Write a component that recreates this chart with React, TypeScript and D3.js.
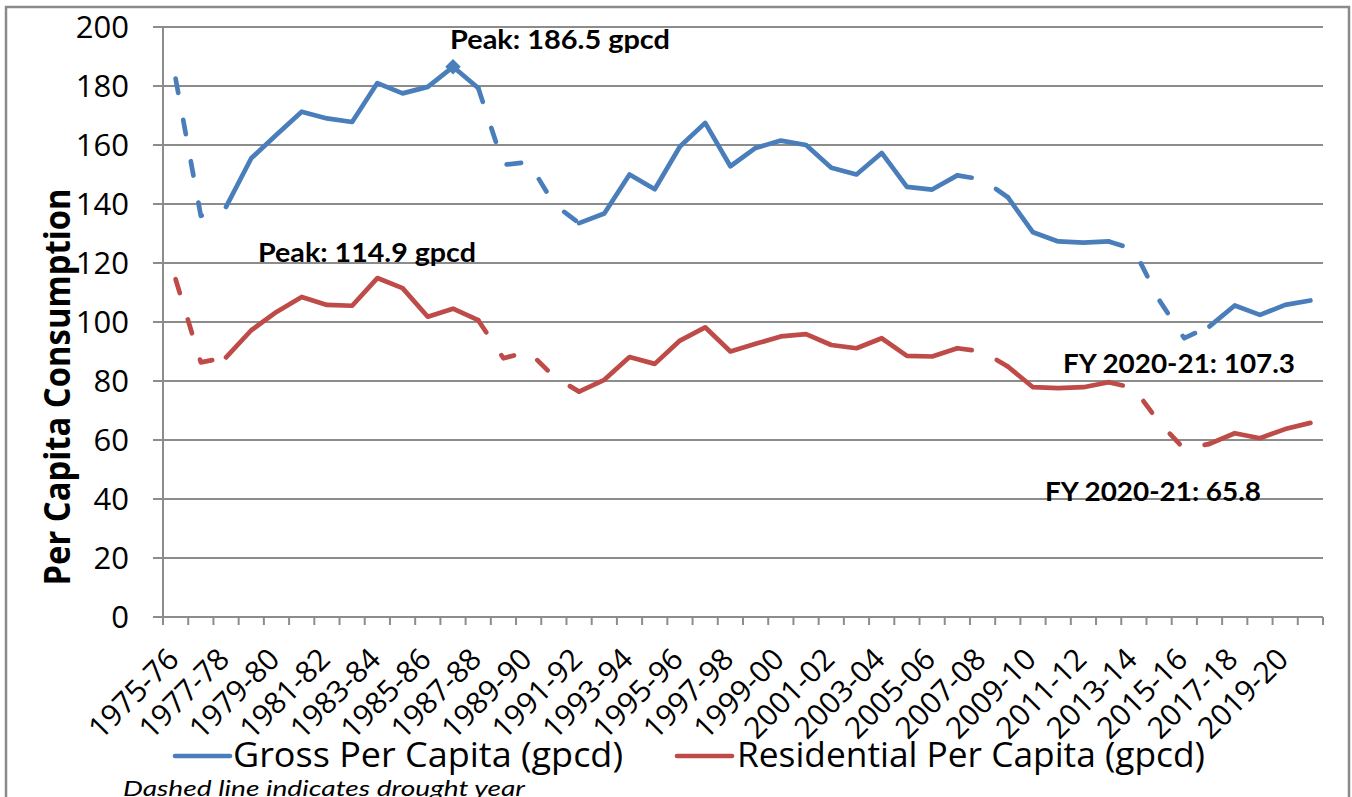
import React from 'react';
import * as d3 from 'd3';

const CATEGORIES = [
  '1975-76', '1976-77', '1977-78', '1978-79', '1979-80', '1980-81', '1981-82', '1982-83',
  '1983-84', '1984-85', '1985-86', '1986-87', '1987-88', '1988-89', '1989-90', '1990-91',
  '1991-92', '1992-93', '1993-94', '1994-95', '1995-96', '1996-97', '1997-98', '1998-99',
  '1999-00', '2000-01', '2001-02', '2002-03', '2003-04', '2004-05', '2005-06', '2006-07',
  '2007-08', '2008-09', '2009-10', '2010-11', '2011-12', '2012-13', '2013-14', '2014-15',
  '2015-16', '2016-17', '2017-18', '2018-19', '2019-20', '2020-21',
];

const GROSS = [
  182.5, 136.0, 139.0, 155.5, 163.5, 171.3, 169.0, 167.8,
  181.0, 177.5, 179.7, 186.5, 179.3, 153.3, 154.2, 140.0,
  133.5, 136.8, 150.0, 145.0, 159.5, 167.5, 152.8, 159.0,
  161.5, 160.0, 152.3, 150.0, 157.3, 145.8, 144.9, 149.7,
  148.3, 142.3, 130.4, 127.3, 126.9, 127.3, 124.6, 107.5,
  94.5, 98.5, 105.6, 102.4, 105.8, 107.3,
];

const RESIDENTIAL = [
  114.5, 86.3, 88.0, 97.2, 103.4, 108.5, 105.8, 105.5,
  114.9, 111.5, 101.8, 104.5, 100.6, 87.7, 90.0, 81.5,
  76.4, 80.4, 88.1, 85.8, 93.7, 98.2, 90.0, 92.6,
  95.1, 95.9, 92.2, 91.1, 94.5, 88.5, 88.3, 91.1,
  90.0, 84.9, 77.9, 77.6, 77.9, 79.6, 77.6, 66.0,
  56.9, 58.7, 62.3, 60.6, 63.7, 65.8,
];

// Segment leading into each of these years is drawn dashed
const DROUGHT_YEARS = [
  '1976-77', '1977-78', '1988-89', '1989-90', '1990-91', '1991-92',
  '2007-08', '2008-09', '2013-14', '2014-15', '2015-16', '2016-17',
];

const Y_TICKS = [0, 20, 40, 60, 80, 100, 120, 140, 160, 180, 200];
const X_LABELS = [
  '1975-76', '1977-78', '1979-80', '1981-82', '1983-84', '1985-86', '1987-88', '1989-90',
  '1991-92', '1993-94', '1995-96', '1997-98', '1999-00', '2001-02', '2003-04', '2005-06',
  '2007-08', '2009-10', '2011-12', '2013-14', '2015-16', '2017-18', '2019-20',
];

const PEAK_GROSS_YEAR = '1986-87';

const W = 1352;
const H = 797;
const LEFT = 163;
const RIGHT = 1323;
const TOP = 27;
const BOTTOM = 617;

const BLUE = '#4A7EBB';
const RED = '#BE4B48';
const GRID = '#8C8C8C';

const x = d3.scaleBand<string>().domain(CATEGORIES).range([LEFT, RIGHT]).padding(0);
const y = d3.scaleLinear().domain([0, 200]).range([BOTTOM, TOP]);
const cx = (c: string) => (x(c) as number) + x.bandwidth() / 2;

type Run = { dashed: boolean; pts: [number, number][] };

function buildRuns(values: number[]): Run[] {
  const drought = new Set(DROUGHT_YEARS);
  const runs: Run[] = [];
  for (let i = 1; i < CATEGORIES.length; i++) {
    const dashed = drought.has(CATEGORIES[i]);
    const p0: [number, number] = [cx(CATEGORIES[i - 1]), y(values[i - 1])];
    const p1: [number, number] = [cx(CATEGORIES[i]), y(values[i])];
    const last = runs[runs.length - 1];
    if (last && last.dashed === dashed) last.pts.push(p1);
    else runs.push({ dashed, pts: [p0, p1] });
  }
  return runs;
}

const line = d3.line<[number, number]>().x((d) => d[0]).y((d) => d[1]);

function Series({ values, color }: { values: number[]; color: string }) {
  const runs = buildRuns(values);
  return (
    <g>
      {runs.map((r, i) => (
        <path
          key={i}
          d={line(r.pts) || ''}
          fill="none"
          stroke={color}
          strokeWidth={4.7}
          strokeLinejoin="round"
          strokeLinecap="round"
          strokeDasharray={r.dashed ? '14.5 27.5' : undefined}
        />
      ))}
    </g>
  );
}

export default function App() {
  const peakX = cx(PEAK_GROSS_YEAR);
  const peakY = y(GROSS[CATEGORIES.indexOf(PEAK_GROSS_YEAR)]);
  const sans = "'Open Sans', sans-serif";
  const bold = "Lato, 'Open Sans', sans-serif";
  return (
    <svg
      width={W}
      height={H}
      style={{ position: 'absolute', left: 0, top: 0, background: '#fff' }}
    >
      <rect x={0} y={0} width={W} height={H} fill="#fff" />
      <rect x={6} y={7} width={1343} height={H + 10} fill="#fff" stroke="#8A8A8A" strokeWidth={2.5} />

      {/* gridlines */}
      {Y_TICKS.map((t) => (
        <line key={t} x1={LEFT - 10} x2={RIGHT} y1={y(t)} y2={y(t)} stroke={GRID} strokeWidth={2} />
      ))}
      {/* y axis */}
      <line x1={LEFT} x2={LEFT} y1={TOP} y2={BOTTOM} stroke={GRID} strokeWidth={2} />
      {/* x tick marks */}
      {[...CATEGORIES.map((c) => x(c) as number), RIGHT].map((v, i) => (
        <line key={i} x1={v} x2={v} y1={BOTTOM} y2={BOTTOM + 8} stroke={GRID} strokeWidth={2} />
      ))}

      {/* y tick labels */}
      {Y_TICKS.map((t) => (
        <text key={t} x={129} y={y(t) + 11} textAnchor="end" fontFamily={sans} fontSize={31} fill="#000">
          {t}
        </text>
      ))}

      {/* x tick labels */}
      {X_LABELS.map((c) => (
        <text
          key={c}
          transform={`translate(${cx(c) + 5},${661}) rotate(-45)`}
          textAnchor="end"
          fontFamily={sans}
          fontSize={30}
          fill="#000"
        >
          {c}
        </text>
      ))}

      {/* y axis title */}
      <text
        transform={`translate(70,387) rotate(-90)`}
        textAnchor="middle"
        fontFamily={sans}
        fontWeight={700}
        fontSize={36}
        textLength={397}
        lengthAdjust="spacingAndGlyphs"
        fill="#000"
      >
        Per Capita Consumption
      </text>

      <Series values={GROSS} color={BLUE} />
      <Series values={RESIDENTIAL} color={RED} />

      {/* peak marker */}
      <rect
        x={-5.5}
        y={-5.5}
        width={11}
        height={11}
        fill={BLUE}
        transform={`translate(${peakX},${peakY}) rotate(45)`}
      />

      {/* annotations */}
      <text x={450} y={49} fontFamily={bold} fontWeight={700} fontSize={27} textLength={220} lengthAdjust="spacingAndGlyphs">
        Peak: 186.5 gpcd
      </text>
      <text x={258} y={262} fontFamily={bold} fontWeight={700} fontSize={27} textLength={218} lengthAdjust="spacingAndGlyphs">
        Peak: 114.9 gpcd
      </text>
      <text x={1063} y={372.5} fontFamily={bold} fontWeight={700} fontSize={27} textLength={232} lengthAdjust="spacingAndGlyphs">
        FY 2020-21: 107.3
      </text>
      <text x={1045} y={501} fontFamily={bold} fontWeight={700} fontSize={27} textLength={216} lengthAdjust="spacingAndGlyphs">
        FY 2020-21: 65.8
      </text>

      {/* legend */}
      <line x1={175} x2={230} y1={756} y2={756} stroke={BLUE} strokeWidth={4.7} strokeLinecap="round" />
      <text x={233} y={767} fontFamily={sans} fontSize={34} textLength={390} lengthAdjust="spacingAndGlyphs">
        Gross Per Capita (gpcd)
      </text>
      <line x1={677} x2={732} y1={756} y2={756} stroke={RED} strokeWidth={4.7} strokeLinecap="round" />
      <text x={737} y={767} fontFamily={sans} fontSize={34} textLength={468} lengthAdjust="spacingAndGlyphs">
        Residential Per Capita (gpcd)
      </text>

      {/* footnote */}
      <text x={123} y={796} fontFamily={bold} fontStyle="italic" fontSize={22} textLength={402} lengthAdjust="spacingAndGlyphs">
        Dashed line indicates drought year
      </text>
    </svg>
  );
}
